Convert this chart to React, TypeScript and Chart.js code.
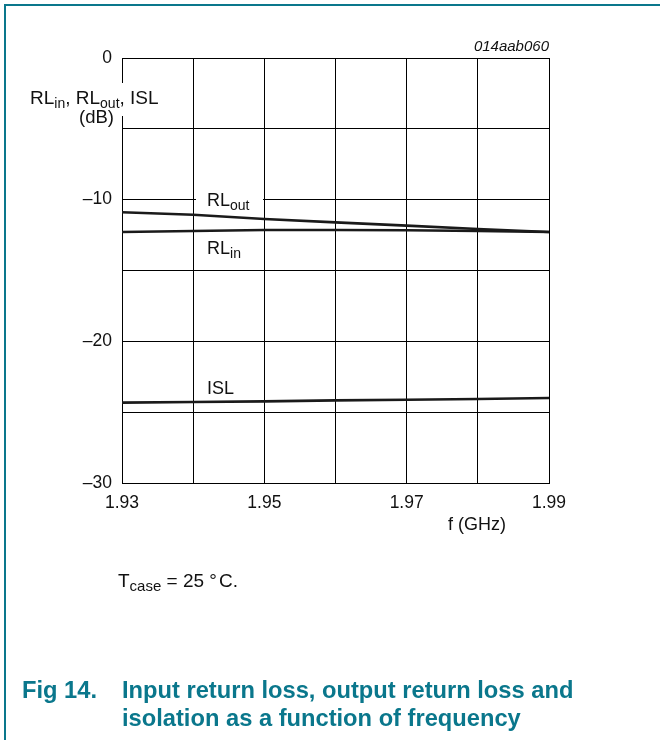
import React, { useEffect, useRef } from 'react';
import { Chart, registerables } from 'chart.js';

Chart.register(...registerables);

// ---- data ----
const freqGHz = [1.93, 1.94, 1.95, 1.96, 1.97, 1.98, 1.99];
const rlOutDb = [-10.89, -11.07, -11.36, -11.6, -11.83, -12.07, -12.28];
const rlInDb = [-12.28, -12.21, -12.14, -12.14, -12.16, -12.21, -12.28];
const islDb = [-24.33, -24.28, -24.24, -24.17, -24.12, -24.07, -24.0];

const xTickLabels = ['1.93', '1.95', '1.97', '1.99'];
const yTickValues = [0, -10, -20, -30];
const yTickLabels = ['0', '–10', '–20', '–30'];

const FONT = "'Liberation Sans', Arial, Helvetica, sans-serif";
const TEAL = '#0a778c';
const INK = '#1a1a1a';

const Sub = ({ children, size = 14, drop = 4 }: any) => (
  <span style={{ fontSize: size, position: 'relative', top: drop }}>{children}</span>
);

const Txt = ({ left, top, children, size = 18, style = {} }: any) => (
  <div
    style={{
      position: 'absolute',
      left,
      top,
      fontSize: size,
      lineHeight: `${size}px`,
      whiteSpace: 'nowrap',
      ...style,
    }}
  >
    {children}
  </div>
);

export default function App() {
  const ref = useRef<HTMLCanvasElement>(null);

  useEffect(() => {
    document.body.style.margin = '0';
    const lineDs = (label: string, data: number[]) => ({
      label,
      data: freqGHz.map((f, i) => ({ x: f, y: data[i] })),
      borderColor: INK,
      backgroundColor: INK,
      borderWidth: 2.6,
      pointRadius: 0,
      tension: 0,
      fill: false,
    });

    const chart = new Chart(ref.current as HTMLCanvasElement, {
      type: 'line',
      data: {
        datasets: [
          lineDs('RLout', rlOutDb),
          lineDs('RLin', rlInDb),
          lineDs('ISL', islDb),
        ],
      },
      options: {
        animation: false,
        responsive: false,
        devicePixelRatio: 1,
        layout: { padding: { top: 58, right: 111, left: 0, bottom: 0 } },
        plugins: {
          legend: { display: false },
          tooltip: { enabled: false },
        },
        scales: {
          x: {
            type: 'linear',
            min: 1.93,
            max: 1.99,
            afterFit: (s: any) => {
              s.height = 77;
            },
            ticks: {
              stepSize: 0.01,
              autoSkip: false,
              maxRotation: 0,
              padding: 10,
              color: '#111',
              font: { family: FONT, size: 17.5 },
              callback: (v: any) => {
                const s = Number(v).toFixed(2);
                return xTickLabels.includes(s) ? s : '';
              },
            },
            grid: { color: '#000', lineWidth: 1, drawTicks: false },
            border: { color: '#000', width: 1 },
          },
          y: {
            type: 'linear',
            min: -30,
            max: 0,
            afterFit: (s: any) => {
              s.width = 122;
            },
            ticks: {
              stepSize: 5,
              autoSkip: false,
              padding: 10,
              color: '#111',
              font: { family: FONT, size: 17.5 },
              callback: (v: any) => {
                const idx = yTickValues.indexOf(Math.round(Number(v)));
                return idx >= 0 ? yTickLabels[idx] : '';
              },
            },
            grid: { color: '#000', lineWidth: 1, drawTicks: false },
            border: { color: '#000', width: 1 },
          },
        },
      },
    });
    return () => chart.destroy();
  }, []);

  return (
    <div
      style={{
        position: 'relative',
        width: 660,
        height: 740,
        background: '#fff',
        overflow: 'hidden',
        fontFamily: FONT,
        color: '#111',
      }}
    >
      <canvas
        ref={ref}
        width={660}
        height={560}
        style={{ position: 'absolute', left: 0, top: 0, width: 660, height: 560 }}
      />

      {/* frame */}
      <div
        style={{
          position: 'absolute',
          left: 4,
          top: 4,
          width: 660,
          height: 740,
          borderTop: `2px solid ${TEAL}`,
          borderLeft: `2px solid ${TEAL}`,
        }}
      />

      {/* figure code */}
      <div
        style={{
          position: 'absolute',
          right: 660 - 549,
          top: 38,
          fontSize: 15,
          lineHeight: '15px',
          fontStyle: 'italic',
          whiteSpace: 'nowrap',
        }}
      >
        014aab060
      </div>

      {/* y axis title */}
      <div style={{ position: 'absolute', left: 28, top: 83, width: 140, height: 33, background: '#fff' }} />
      <Txt left={30} top={88} size={19}>
        RL<Sub>in</Sub>, RL<Sub>out</Sub>, ISL
      </Txt>
      <Txt left={79} top={108} size={18.5}>(dB)</Txt>

      {/* x axis title */}
      <Txt left={448} top={515}>f (GHz)</Txt>

      {/* curve labels */}
      <div style={{ position: 'absolute', left: 196, top: 192, width: 67, height: 20, background: '#fff' }} />
      <Txt left={207} top={191}>
        RL<Sub>out</Sub>
      </Txt>
      <Txt left={207} top={239}>
        RL<Sub>in</Sub>
      </Txt>
      <Txt left={207} top={379}>ISL</Txt>

      {/* condition note */}
      <Txt left={118} top={571} size={19}>
        T<Sub size={15}>case</Sub> = 25 °<span style={{ marginLeft: 2 }}>C.</span>
      </Txt>

      {/* caption */}
      <div
        style={{
          position: 'absolute',
          left: 22,
          top: 676,
          fontSize: 23.7,
          lineHeight: '28px',
          fontWeight: 'bold',
          color: TEAL,
          whiteSpace: 'nowrap',
        }}
      >
        <div style={{ display: 'flex' }}>
          <span style={{ width: 100 }}>Fig 14.</span>
          <span>Input return loss, output return loss and</span>
        </div>
        <div style={{ paddingLeft: 100 }}>isolation as a function of frequency</div>
      </div>
    </div>
  );
}
